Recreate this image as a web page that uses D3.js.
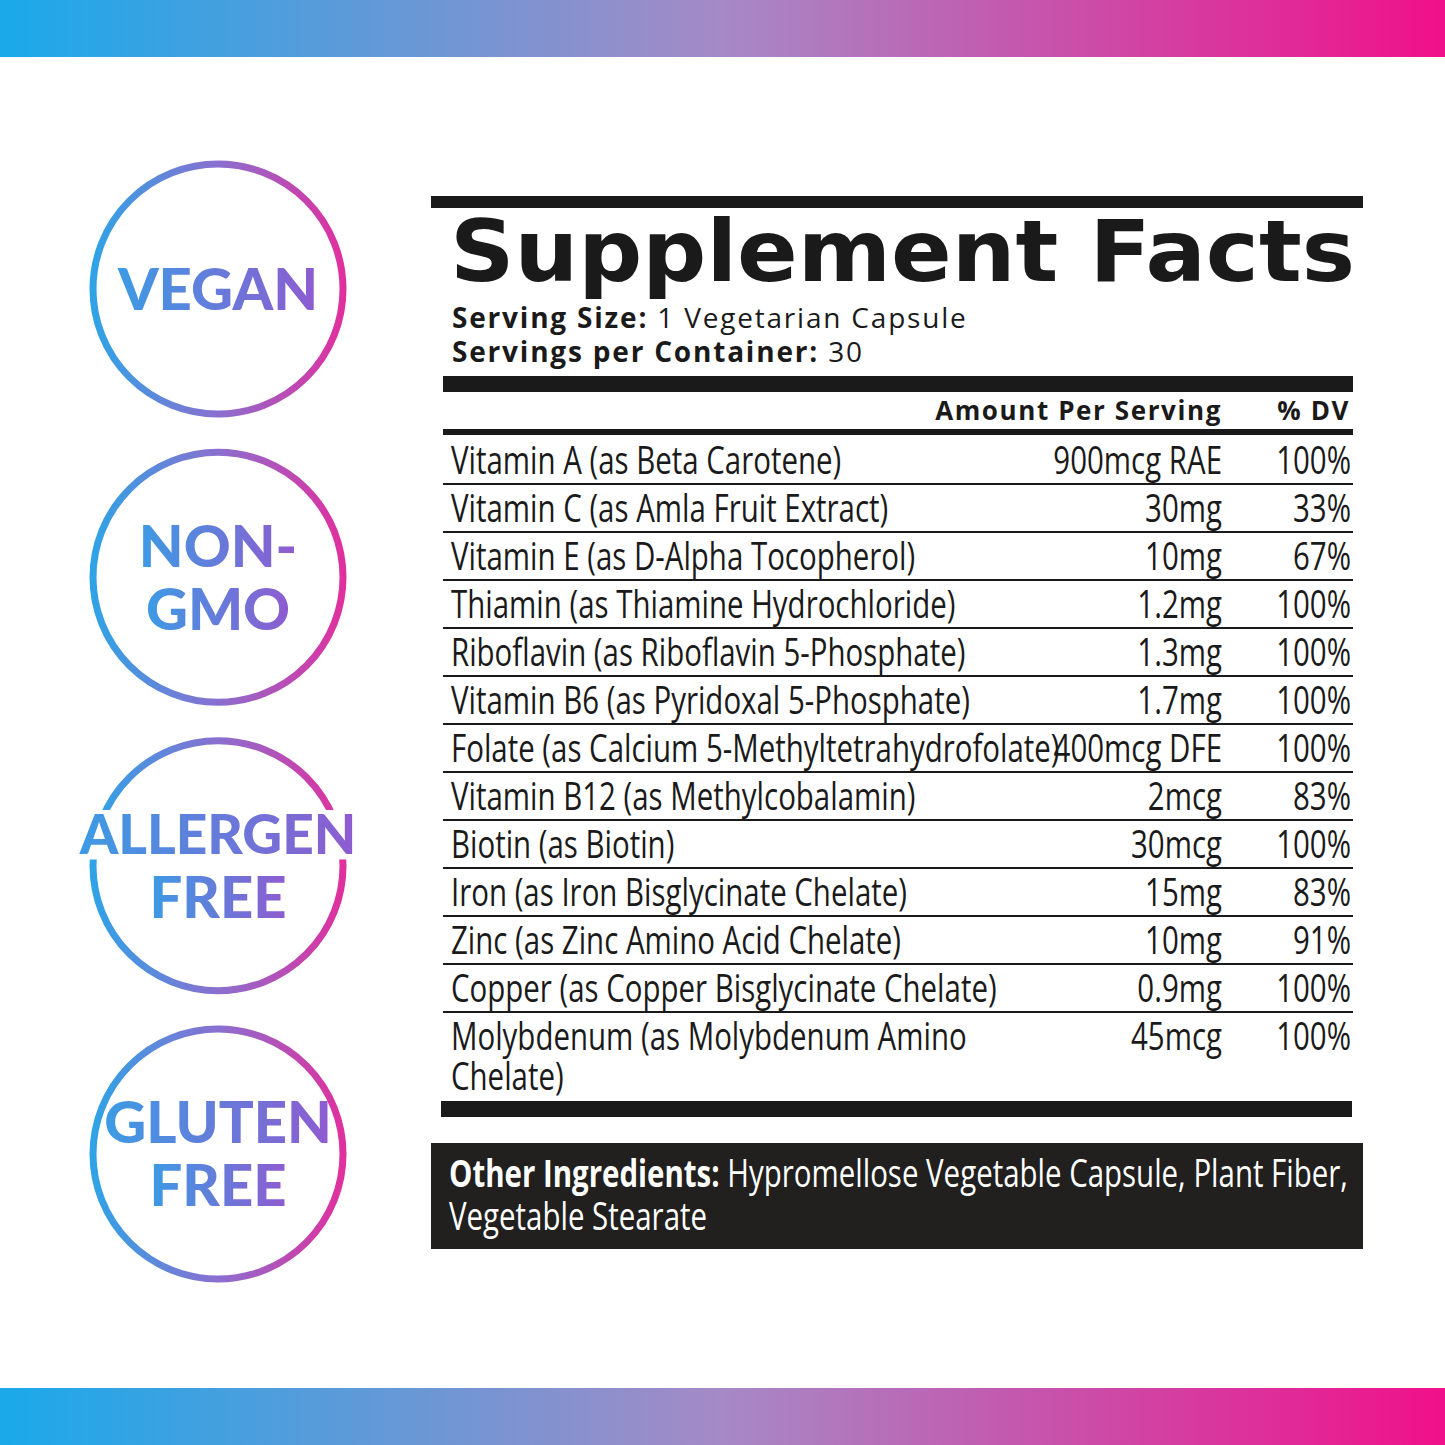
<!DOCTYPE html>
<html><head><meta charset="utf-8">
<script src="https://cdn.jsdelivr.net/npm/d3@7/dist/d3.min.js"></script>
<style>body{margin:0;background:#fff}svg{display:block}</style></head>
<body><svg id="c" width="1445" height="1445"></svg>
<script>
const badges=[["VEGAN"],["NON-","GMO"],["ALLERGEN","FREE"],["GLUTEN","FREE"]];
const nutrients=["Vitamin A (as Beta Carotene)","Vitamin C (as Amla Fruit Extract)","Vitamin E (as D-Alpha Tocopherol)","Thiamin (as Thiamine Hydrochloride)","Riboflavin (as Riboflavin 5-Phosphate)","Vitamin B6 (as Pyridoxal 5-Phosphate)","Folate (as Calcium 5-Methyltetrahydrofolate)","Vitamin B12 (as Methylcobalamin)","Biotin (as Biotin)","Iron (as Iron Bisglycinate Chelate)","Zinc (as Zinc Amino Acid Chelate)","Copper (as Copper Bisglycinate Chelate)","Molybdenum (as Molybdenum Amino|Chelate)"];
const amounts=["900mcg RAE","30mg","10mg","1.2mg","1.3mg","1.7mg","400mcg DFE","2mcg","30mcg","15mg","10mg","0.9mg","45mcg"];
const dv=["100%","33%","67%","100%","100%","100%","100%","83%","100%","83%","91%","100%","100%"];

const svg=d3.select("#c");
const defs=svg.append("defs");
const g1=defs.append("linearGradient").attr("id","bar");
g1.append("stop").attr("offset","0").attr("stop-color","#1aa9ea");
g1.append("stop").attr("offset","0.5").attr("stop-color","#a58ac6");
g1.append("stop").attr("offset","1").attr("stop-color","#f0108a");
const g2=defs.append("linearGradient").attr("id","ring");
g2.append("stop").attr("offset","0").attr("stop-color","#2fa3e6");
g2.append("stop").attr("offset","0.5").attr("stop-color","#8a6fd0");
g2.append("stop").attr("offset","1").attr("stop-color","#e0309e");
const g3=defs.append("linearGradient").attr("id","txt");
g3.append("stop").attr("offset","0").attr("stop-color","#3c9be4");
g3.append("stop").attr("offset","1").attr("stop-color","#8f5bd0");

svg.append("rect").attr("x",0).attr("y",0).attr("width",1445).attr("height",57).attr("fill","url(#bar)");
svg.append("rect").attr("x",0).attr("y",1388).attr("width",1445).attr("height",57).attr("fill","url(#bar)");

const by=d3.scalePoint().domain(d3.range(badges.length)).range([289,1154]);
badges.forEach((b,i)=>{
  const cy=by(i);
  svg.append("circle").attr("cx",218).attr("cy",cy).attr("r",125).attr("fill","none").attr("stroke","url(#ring)").attr("stroke-width",7);
  const lh=63;
  b.forEach((t,j)=>{
    const fs=t.length>=8?55:58;
    const y=cy+(j-(b.length-1)/2)*lh+fs*0.36;
    if(t.length>=8){
      svg.append("rect").attr("x",72).attr("y",y-fs*0.8).attr("width",292).attr("height",fs*0.9).attr("fill","#fff");
    }
    svg.append("text").attr("x",218).attr("y",y).attr("text-anchor","middle")
      .attr("font-family","Lato, 'Open Sans', sans-serif").attr("font-weight",900).attr("font-size",fs)
      .attr("fill","url(#txt)").text(t);
  });
});

const L=443,R=1353;
svg.append("rect").attr("x",431).attr("y",196).attr("width",932).attr("height",12).attr("fill","#1a1a1a");
svg.append("text").attr("x",450).attr("y",281).attr("font-family","'DejaVu Sans', sans-serif").attr("font-weight",900)
  .attr("font-size",86).attr("textLength",905).attr("lengthAdjust","spacingAndGlyphs").attr("fill","#1a1a1a").text("Supplement Facts");
const ff="'Open Sans', 'DejaVu Sans', sans-serif";
[["Serving Size:"," 1 Vegetarian Capsule",328],["Servings per Container:"," 30",362]].forEach(d=>{
  const t=svg.append("text").attr("x",452).attr("y",d[2]).attr("font-family",ff).attr("font-size",28).attr("fill","#1a1a1a").attr("letter-spacing",1.8);
  t.append("tspan").attr("font-weight",700).text(d[0]);
  t.append("tspan").text(d[1]);
});
svg.append("rect").attr("x",L).attr("y",376).attr("width",R-L).attr("height",16).attr("fill","#1a1a1a");
svg.append("text").attr("x",1222).attr("y",420).attr("text-anchor","end").attr("font-family",ff).attr("font-weight",700).attr("font-size",26).attr("letter-spacing",1.6).attr("fill","#1a1a1a").text("Amount Per Serving");
svg.append("text").attr("x",1350).attr("y",420).attr("text-anchor","end").attr("font-family",ff).attr("font-weight",700).attr("font-size",26).attr("letter-spacing",1.6).attr("fill","#1a1a1a").text("% DV");
svg.append("rect").attr("x",L).attr("y",429).attr("width",R-L).attr("height",6).attr("fill","#1a1a1a");

const nf="'Open Sans','DejaVu Sans',sans-serif";
const SX=0.775;
function ctext(x,y,anchor,fill){
  return svg.append("g").attr("transform",`translate(${x},${y}) scale(${SX},1)`)
    .append("text").attr("text-anchor",anchor).attr("font-family",nf).attr("font-size",38).attr("fill",fill||"#1a1a1a");
}
const ry=d3.scaleLinear().domain([0,1]).range([436,484]);
nutrients.forEach((n,i)=>{
  const top=ry(i);
  n.split("|").forEach((l,j)=>ctext(451,top+38+j*40,"start").text(l));
  ctext(1222,top+38,"end").text(amounts[i]);
  ctext(1351,top+38,"end").text(dv[i]);
  if(i<nutrients.length-1) svg.append("rect").attr("x",L).attr("y",ry(i+1)-1).attr("width",R-L).attr("height",2).attr("fill","#1a1a1a");
});
svg.append("rect").attr("x",441).attr("y",1101).attr("width",911).attr("height",16).attr("fill","#1a1a1a");

svg.append("rect").attr("x",431).attr("y",1143).attr("width",932).attr("height",106).attr("fill","#221f1f");
const o=ctext(449,1187,"start","#fff");
o.append("tspan").attr("font-weight",700).text("Other Ingredients:");
o.append("tspan").text(" Hypromellose Vegetable Capsule, Plant Fiber,");
ctext(449,1230,"start","#fff").text("Vegetable Stearate");
</script></body></html>
